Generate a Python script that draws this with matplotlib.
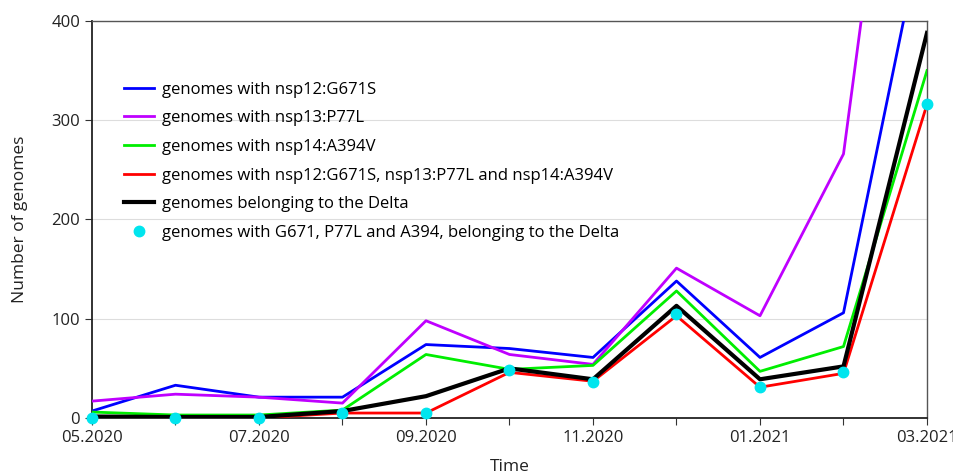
import matplotlib
matplotlib.use("Agg")
import matplotlib.pyplot as plt

plt.rcParams['font.family'] = ['Open Sans', 'DejaVu Sans']

months = ["05.2020", "06.2020", "07.2020", "08.2020", "09.2020", "10.2020",
          "11.2020", "12.2020", "01.2021", "02.2021", "03.2021"]
tick_labels = ["05.2020", "", "07.2020", "", "09.2020", "", "11.2020", "",
               "01.2021", "", "03.2021"]

nsp12 = [7, 33, 21, 21, 74, 70, 61, 138, 61, 106, 515]
nsp13 = [17, 24, 21, 15, 98, 64, 54, 151, 103, 266, 900]
nsp14 = [6, 3, 3, 8, 64, 49, 53, 128, 47, 72, 350]
triple = [0, 0, 0, 5, 5, 46, 37, 103, 31, 45, 316]
delta = [1.5, 1, 1, 7, 22, 50, 39, 113, 39, 52, 388]
triple_delta = [0, 0, 0, 5, 5, 48, 36, 105, 31, 46, 316]

x = list(range(len(months)))

fig = plt.figure(figsize=(9.54, 4.75), dpi=100)
ax = fig.add_axes([0.0964, 0.12, 0.8753, 0.8358])

ax.plot(x, nsp12, color="#0000ff", lw=2.0, label="genomes with nsp12:G671S", zorder=3)
ax.plot(x, nsp13, color="#bf00ff", lw=2.0, label="genomes with nsp13:P77L", zorder=3)
ax.plot(x, nsp14, color="#00ee00", lw=2.0, label="genomes with nsp14:A394V", zorder=3)
ax.plot(x, triple, color="#ff0000", lw=2.0,
        label="genomes with nsp12:G671S, nsp13:P77L and nsp14:A394V", zorder=3)
ax.plot(x, delta, color="black", lw=3.0, label="genomes belonging to the Delta", zorder=4)
ax.plot(x, triple_delta, linestyle="none", marker="o", ms=7.5, color="#00e5ee",
        label="genomes with G671, P77L and A394, belonging to the Delta",
        zorder=5, clip_on=False)

ax.set_xlim(0, 10)
ax.set_ylim(0, 400)
ax.set_xticks(x)
ax.set_xticklabels(tick_labels)
ax.set_yticks([0, 100, 200, 300, 400])
ax.yaxis.grid(True, color="#dddddd", lw=0.8)
ax.set_axisbelow(True)
ax.tick_params(axis='both', labelsize=12, direction='out', length=5, color="#333333",
               labelcolor="#222222")
ax.tick_params(axis='x', pad=4)

for s in ['left', 'bottom']:
    ax.spines[s].set_color("#222222")
    ax.spines[s].set_linewidth(1.3)
for s in ['top', 'right']:
    ax.spines[s].set_color("#555555")
    ax.spines[s].set_linewidth(1.0)

ax.set_xlabel("Time", fontsize=12.5, color="#222222", labelpad=9)
ax.set_ylabel("Number of genomes", fontsize=12.5, color="#222222", labelpad=17)

leg = ax.legend(loc="upper left", bbox_to_anchor=(0.02, 0.885), frameon=False,
                fontsize=12, handlelength=1.8, labelspacing=0.76, handletextpad=0.5)

fig.savefig("out.png", dpi=100)
